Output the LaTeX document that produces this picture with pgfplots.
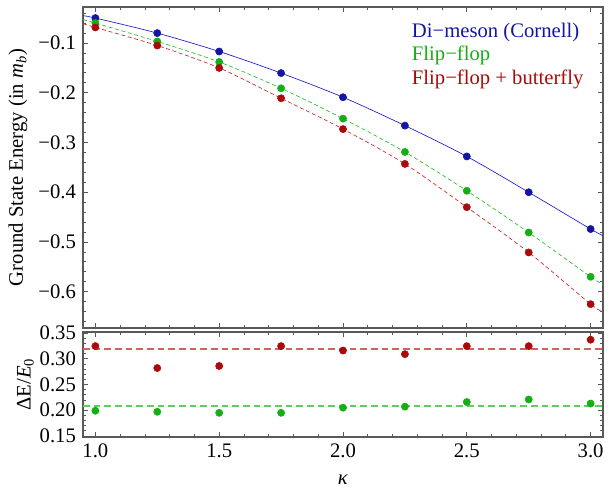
\documentclass[border=0pt]{standalone}
\usepackage{fontspec}
\setmainfont{Liberation Serif}
\usepackage{pgfplots}
\pgfplotsset{compat=1.18}
\definecolor{cblue}{RGB}{20,20,165}
\definecolor{cgreen}{RGB}{20,175,20}
\definecolor{cred}{RGB}{170,10,10}
\definecolor{lblue}{RGB}{30,30,200}
\definecolor{lgreen}{RGB}{40,190,40}
\definecolor{lred}{RGB}{200,40,40}
\begin{document}
\fontsize{15.5}{18.5}\selectfont
\begin{tikzpicture}
\pgfplotsset{
  panel/.style={
    width=390pt, scale only axis,
    xmin=0.95, xmax=3.05,
    axis line style={black!65, line width=0.8pt},
    tick style={black!65, line width=0.6pt},
    tick align=inside, tick pos=both,
    major tick length=3.5pt, minor tick length=2pt,
    xtick={1,1.5,2,2.5,3},
    minor xtick={1.1,1.2,1.3,1.4,1.6,1.7,1.8,1.9,2.1,2.2,2.3,2.4,2.6,2.7,2.8,2.9},
    /pgf/number format/assume math mode=true,
    tick label style={font=\fontsize{15.5}{18.5}\selectfont},
    label style={font=\fontsize{15.5}{18.5}\selectfont},
  },
  pts/.style={only marks, mark=*, mark size=2.7pt},
}
\begin{axis}[panel, name=top,
  height=240.75pt,
  ymin=-0.673, ymax=-0.0275,
  ytick={-0.6,-0.5,-0.4,-0.3,-0.2,-0.1},
  yticklabels={−0.6,−0.5,−0.4,−0.3,−0.2,−0.1},
  minor ytick={-0.66,-0.64,-0.62,-0.58,-0.56,-0.54,-0.52,-0.48,-0.46,-0.44,-0.42,-0.38,-0.36,-0.34,-0.32,-0.28,-0.26,-0.24,-0.22,-0.18,-0.16,-0.14,-0.12,-0.08,-0.06,-0.04},
  xticklabels={},
  ylabel={Ground State Energy (in \textit{m}\textsubscript{\textit{b}})},
  every axis y label/.style={at={(axis description cs:-0.125,0.5)}, rotate=90, anchor=center},
  legend style={at={(axis description cs:0.627,0.96)}, anchor=north west,
    draw=none, fill=none, row sep=0.5pt, inner sep=0pt,
    font=\fontsize{15.5}{18.5}\selectfont},
  legend cell align=left,
  legend image code/.code={},
]
\addplot[lblue, line width=0.5pt, smooth] coordinates {
  (0.95,-0.045) (1.0,-0.0497) (1.25,-0.080) (1.5,-0.117) (1.75,-0.1604)
  (2.0,-0.209) (2.25,-0.266) (2.5,-0.328) (2.75,-0.400) (3.0,-0.474) (3.05,-0.487)};
\addlegendentry{\textcolor{cblue}{Di−meson (Cornell)}}
\addplot[lgreen, line width=0.5pt, smooth, dash pattern=on 3pt off 2pt] coordinates {
  (0.95,-0.053) (1.0,-0.0598) (1.25,-0.0968) (1.5,-0.138) (1.75,-0.191)
  (2.0,-0.252) (2.25,-0.319) (2.5,-0.397) (2.75,-0.481) (3.0,-0.570) (3.05,-0.585)};
\addlegendentry{\textcolor{cgreen}{Flip−flop}}
\addplot[lred, line width=0.5pt, smooth, dash pattern=on 3pt off 2pt] coordinates {
  (0.95,-0.061) (1.0,-0.0686) (1.25,-0.105) (1.5,-0.150) (1.75,-0.211)
  (2.0,-0.273) (2.25,-0.343) (2.5,-0.430) (2.75,-0.521) (3.0,-0.625) (3.05,-0.640)};
\addlegendentry{\textcolor{cred}{Flip−flop + butterfly}}
\addplot[pts, cblue, forget plot] coordinates {
  (1.0,-0.0497) (1.25,-0.080) (1.5,-0.117) (1.75,-0.1604) (2.0,-0.209)
  (2.25,-0.266) (2.5,-0.328) (2.75,-0.400) (3.0,-0.474)};
\addplot[pts, cgreen, forget plot] coordinates {
  (1.0,-0.0598) (1.25,-0.0968) (1.5,-0.138) (1.75,-0.191) (2.0,-0.252)
  (2.25,-0.319) (2.5,-0.397) (2.75,-0.481) (3.0,-0.570)};
\addplot[pts, cred, forget plot] coordinates {
  (1.0,-0.0686) (1.25,-0.105) (1.5,-0.150) (1.75,-0.211) (2.0,-0.273)
  (2.25,-0.343) (2.5,-0.430) (2.75,-0.521) (3.0,-0.625)};
\end{axis}
\begin{axis}[panel, name=bot,
  at={(top.south west)}, anchor=north west, yshift=-3pt,
  height=78.75pt,
  ymin=0.148, ymax=0.352,
  ytick={0.15,0.2,0.25,0.3,0.35},
  minor ytick={0.16,0.17,0.18,0.19,0.21,0.22,0.23,0.24,0.26,0.27,0.28,0.29,0.31,0.32,0.33,0.34},
  yticklabel style={/pgf/number format/.cd, fixed, fixed zerofill, precision=2},
  xticklabel style={/pgf/number format/.cd, fixed, fixed zerofill, precision=1},
  ylabel={ΔE/\textit{E}\textsubscript{0}},
  every axis y label/.style={at={(axis description cs:-0.111,0.5)}, rotate=90, anchor=center},
  xlabel={\textit{κ}},
  every axis x label/.style={at={(axis description cs:0.5,-0.41)}, anchor=center},
]
\addplot[lred!75, line width=1pt, dash pattern=on 5pt off 3pt] coordinates {(0.95,0.319) (3.05,0.319)};
\addplot[lgreen!75, line width=1pt, dash pattern=on 5pt off 3pt] coordinates {(0.95,0.208) (3.05,0.208)};
\addplot[pts, cred] coordinates {
  (1.0,0.3246) (1.25,0.282) (1.5,0.286) (1.75,0.3246) (2.0,0.316)
  (2.25,0.309) (2.5,0.3246) (2.75,0.3246) (3.0,0.337)};
\addplot[pts, cgreen] coordinates {
  (1.0,0.199) (1.25,0.197) (1.5,0.195) (1.75,0.195) (2.0,0.205)
  (2.25,0.207) (2.5,0.216) (2.75,0.221) (3.0,0.213)};
\end{axis}
\useasboundingbox ([xshift=-62.25pt, yshift=-37.5pt]bot.south west) rectangle ([xshift=399.75pt, yshift=5.25pt]top.north west);
\end{tikzpicture}
\end{document}
